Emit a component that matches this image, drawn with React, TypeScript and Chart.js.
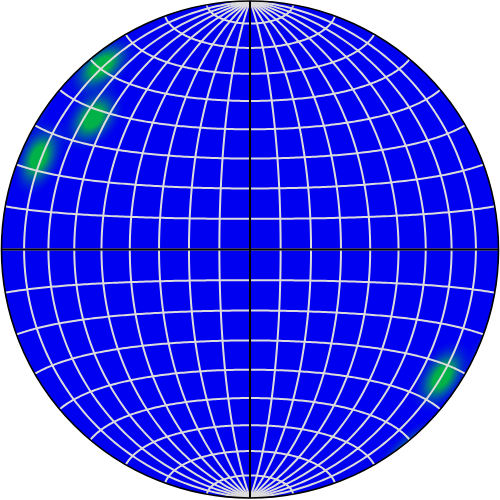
import { useEffect, useRef } from 'react';
import { Chart, registerables } from 'chart.js';

Chart.register(...registerables);

// Measured lines (lower-hemisphere): trend / plunge in degrees
const TRENDS = [321, 310, 293.5, 123.6];
const PLUNGES = [5.5, 18.7, 8, 8];

// Grid spacing (degrees) for meridians and parallels
const GRID_LONS = [-80, -70, -60, -50, -40, -30, -20, -10, 0, 10, 20, 30, 40, 50, 60, 70, 80];
const GRID_LATS = [-80, -70, -60, -50, -40, -30, -20, -10, 0, 10, 20, 30, 40, 50, 60, 70, 80];

// Density colour levels
const KAPPA = 190;
const LOW_LEVEL = 0.06;
const HIGH_LEVEL = 0.8;

const R_PX = 248.5;
const CX = 250;
const CY = 249.5;

const D2R = Math.PI / 180;

function projectLine(trend: number, plunge: number) {
  const r = Math.SQRT2 * Math.sin(((90 - plunge) / 2) * D2R);
  return { x: r * Math.sin(trend * D2R), y: r * Math.cos(trend * D2R) };
}

function projectLonLat(lon: number, lat: number) {
  const cl = Math.cos(lat * D2R);
  const k = 1 / Math.sqrt(1 + cl * Math.cos(lon * D2R));
  return { x: k * cl * Math.sin(lon * D2R), y: k * Math.sin(lat * D2R) };
}

const poleVectors = TRENDS.map((t, i) => {
  const p = PLUNGES[i] * D2R;
  const tr = t * D2R;
  return [Math.cos(p) * Math.sin(tr), Math.cos(p) * Math.cos(tr), Math.sin(p)];
});

const STOPS: [number, number[]][] = [
  [0, [0, 0, 240]],
  [0.5, [0, 92, 168]],
  [1, [0, 178, 72]],
];

function colorAt(t: number) {
  t = Math.max(0, Math.min(1, t));
  for (let i = 1; i < STOPS.length; i++) {
    if (t <= STOPS[i][0]) {
      const [t0, c0] = STOPS[i - 1];
      const [t1, c1] = STOPS[i];
      const f = (t - t0) / (t1 - t0);
      return [0, 1, 2].map((j) => Math.round(c0[j] + (c1[j] - c0[j]) * f));
    }
  }
  return STOPS[STOPS.length - 1][1];
}

const stereonetPlugin = {
  id: 'stereonet',
  beforeDatasetsDraw(chart: any) {
    const ctx: CanvasRenderingContext2D = chart.ctx;
    const xs = chart.scales.x;
    const ys = chart.scales.y;
    const W = chart.width;
    const H = chart.height;
    const off = document.createElement('canvas');
    off.width = W;
    off.height = H;
    const octx = off.getContext('2d')!;
    const img = octx.createImageData(W, H);
    for (let py = 0; py < H; py++) {
      const y = ys.getValueForPixel(py + 0.5);
      for (let px = 0; px < W; px++) {
        const x = xs.getValueForPixel(px + 0.5);
        const r2 = x * x + y * y;
        if (r2 > 1.0) continue;
        const s = Math.sqrt(2 - r2);
        const e = x * s, n = y * s, d = 1 - r2;
        let dens = 0;
        for (const p of poleVectors) {
          const dot = Math.abs(e * p[0] + n * p[1] + d * p[2]);
          dens += Math.exp(KAPPA * (dot - 1));
        }
        const c = colorAt((dens - LOW_LEVEL) / (HIGH_LEVEL - LOW_LEVEL));
        const idx = (py * W + px) * 4;
        img.data[idx] = c[0];
        img.data[idx + 1] = c[1];
        img.data[idx + 2] = c[2];
        img.data[idx + 3] = 255;
      }
    }
    octx.putImageData(img, 0, 0);

    const cx = xs.getPixelForValue(0);
    const cy = ys.getPixelForValue(0);
    const rad = xs.getPixelForValue(1) - cx;

    ctx.save();
    ctx.beginPath();
    ctx.arc(cx, cy, rad, 0, Math.PI * 2);
    ctx.fillStyle = 'rgb(0,0,240)';
    ctx.fill();
    ctx.clip();
    ctx.drawImage(off, 0, 0);

    ctx.strokeStyle = 'rgb(220,220,220)';
    ctx.lineWidth = 2;
    ctx.lineJoin = 'round';
    for (const lon of GRID_LONS) {
      ctx.beginPath();
      for (let lat = -90; lat <= 90; lat += 1) {
        const q = projectLonLat(lon, lat);
        const X = xs.getPixelForValue(q.x);
        const Y = ys.getPixelForValue(q.y);
        if (lat === -90) ctx.moveTo(X, Y);
        else ctx.lineTo(X, Y);
      }
      ctx.stroke();
    }
    for (const lat of GRID_LATS) {
      ctx.beginPath();
      for (let lon = -90; lon <= 90; lon += 1) {
        const q = projectLonLat(lon, lat);
        const X = xs.getPixelForValue(q.x);
        const Y = ys.getPixelForValue(q.y);
        if (lon === -90) ctx.moveTo(X, Y);
        else ctx.lineTo(X, Y);
      }
      ctx.stroke();
    }
    ctx.restore();
  },
  afterDatasetsDraw(chart: any) {
    const ctx: CanvasRenderingContext2D = chart.ctx;
    const xs = chart.scales.x;
    const ys = chart.scales.y;
    const cx = xs.getPixelForValue(0);
    const cy = ys.getPixelForValue(0);
    const rad = xs.getPixelForValue(1) - cx;
    ctx.save();
    ctx.beginPath();
    ctx.arc(cx, cy, rad, 0, Math.PI * 2);
    ctx.strokeStyle = '#000';
    ctx.lineWidth = 1.6;
    ctx.stroke();
    ctx.restore();
  },
};

export default function App() {
  const ref = useRef<HTMLCanvasElement>(null);
  useEffect(() => {
    document.body.style.margin = '0';
    const pts = TRENDS.map((t, i) => projectLine(t, PLUNGES[i]));
    const chart = new Chart(ref.current!, {
      type: 'scatter',
      data: {
        datasets: [
          { data: pts, pointRadius: 0, showLine: false },
          {
            data: [{ x: -1, y: 0 }, { x: 1, y: 0 }],
            showLine: true,
            borderColor: '#000',
            borderWidth: 2,
            pointRadius: 0,
          },
          {
            data: [{ x: 0, y: -1 }, { x: 0, y: 1 }],
            showLine: true,
            borderColor: '#000',
            borderWidth: 2,
            pointRadius: 0,
          },
        ],
      },
      options: {
        animation: false,
        responsive: false,
        maintainAspectRatio: false,
        layout: { padding: 0 },
        plugins: { legend: { display: false }, tooltip: { enabled: false } },
        events: [],
        scales: {
          x: { type: 'linear', min: -CX / R_PX, max: (500 - CX) / R_PX, display: false },
          y: { type: 'linear', min: -(500 - CY) / R_PX, max: CY / R_PX, display: false },
        },
      },
      plugins: [stereonetPlugin],
    });
    return () => chart.destroy();
  }, []);
  return <canvas ref={ref} width={500} height={500} style={{ display: 'block' }} />;
}
